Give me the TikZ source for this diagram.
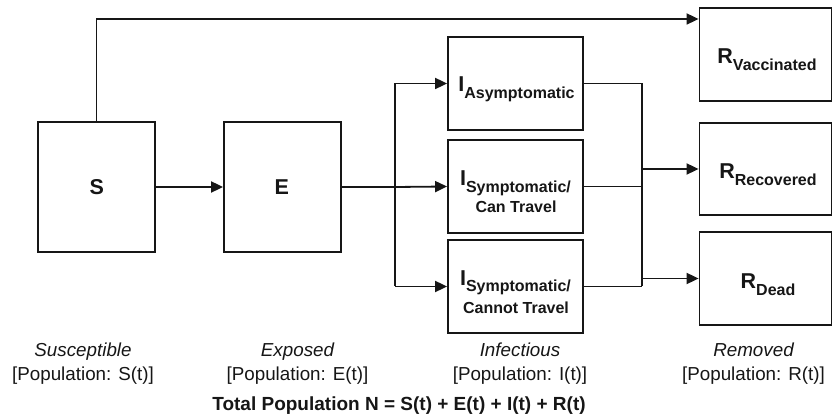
\documentclass[tikz,border=0pt]{standalone}
\usepackage{fontspec}
\setmainfont{Liberation Sans}
\usetikzlibrary{arrows.meta}
\definecolor{ink}{HTML}{161616}
\newcommand\cmpMain[1]{{\fontsize{21.5}{24}\selectfont\bfseries #1}}
\newcommand\cmpSub[1]{\raisebox{-6.5pt}{\fontsize{16}{18}\selectfont\bfseries #1}}
\begin{document}
\begin{tikzpicture}[x=1pt,y=-1pt,
  box/.style={draw=ink, line width=1.8pt, rectangle, inner sep=0pt},
  conn/.style={draw=ink, line width=1.8pt},
  arr/.style={conn, -{Triangle[length=12pt,width=11pt]}},
  lbl/.style={anchor=base, text=ink},
  subline/.style={lbl, font=\fontsize{16}{18}\selectfont\bfseries},
  captxt/.style={lbl, font=\fontsize{18.8}{22}\selectfont\itshape},
  poptxt/.style={lbl, font=\fontsize{18.8}{22}\selectfont},
  tottxt/.style={lbl, font=\fontsize{19}{22}\selectfont\bfseries}]
\useasboundingbox (0,0) rectangle (833,419);

% boxes
\node[box, minimum width=117pt, minimum height=130pt] (S) at (96.5,187) {};
\node[box, minimum width=117pt, minimum height=130pt] (E) at (282.5,187) {};
\node[box, minimum width=135pt, minimum height=93pt] (IA) at (515.5,83.5) {};
\node[box, minimum width=135pt, minimum height=93pt] (IC) at (515.5,186.5) {};
\node[box, minimum width=135pt, minimum height=93pt] (IN) at (515.5,286.5) {};
\node[box, minimum width=132pt, minimum height=93pt] (RV) at (765.5,54.5) {};
\node[box, minimum width=132pt, minimum height=92pt] (RR) at (765.5,169) {};
\node[box, minimum width=132pt, minimum height=93pt] (RD) at (765.5,278.5) {};

% box texts
\node[lbl] (tS) at (96.7,195) {\cmpMain{S}};
\node[lbl] (tE) at (281.7,195) {\cmpMain{E}};
\node[lbl] (tIA) at (516.5,91.7) {\cmpMain{I}\cmpSub{Asymptomatic}};
\node[lbl] (tIC) at (515.5,185.7) {\cmpMain{I}\cmpSub{Symptomatic/}};
\node[subline] (tIC2) at (516,213) {Can Travel};
\node[lbl] (tIN) at (515.5,285.3) {\cmpMain{I}\cmpSub{Symptomatic/}};
\node[subline] (tIN2) at (516,313.7) {Cannot Travel};
\node[lbl] (tRV) at (767,64) {\cmpMain{R}\cmpSub{Vaccinated}};
\node[lbl] (tRR) at (768,179) {\cmpMain{R}\cmpSub{Recovered}};
\node[lbl] (tRD) at (768,289) {\cmpMain{R}\cmpSub{Dead}};

% junction coordinates
\coordinate (top) at (96.5,19);
\coordinate (b1) at (395,83.5);
\coordinate (b2) at (395,187);
\coordinate (b3) at (395,286.5);
\coordinate (m1) at (642,83.5);
\coordinate (m2) at (642,186.5);
\coordinate (m3) at (642,286.5);
\coordinate (r2) at (642,169);
\coordinate (r3) at (642,278.5);

% connectors
\draw[arr] (S.north) -- (top) -- (RV.west |- top);
\draw[arr] (S) -- (E);
\draw[conn] (E.east) -- (b2);
\draw[conn] (b1) -- (b3);
\draw[arr] (b1) -- (IA.west);
\draw[arr] (b2) -- (IC.west);
\draw[arr] (b3) -- (IN.west);
\draw[conn] (IA.east) -- (m1);
\draw[conn] (IC.east) -- (m2);
\draw[conn] (IN.east) -- (m3);
\draw[conn] (m1) -- (m3);
\draw[arr] (r2) -- (RR.west);
\draw[arr] (r3) -- (RD.west);

% captions
\node[captxt] (cS) at (83,356.5) {Susceptible};
\node[poptxt] (pS) at (83,380.5) {[Population: S(t)]};
\node[captxt] (cE) at (297.5,356.5) {Exposed};
\node[poptxt] (pE) at (297.5,380.5) {[Population: E(t)]};
\node[captxt] (cI) at (520,356.5) {Infectious};
\node[poptxt] (pI) at (520,380.5) {[Population: I(t)]};
\node[captxt] (cR) at (753.5,356.5) {Removed};
\node[poptxt] (pR) at (753.5,380.5) {[Population: R(t)]};
\node[tottxt] (total) at (399,410.5) {Total Population N = S(t) + E(t) + I(t) + R(t)};
\end{tikzpicture}
\end{document}
